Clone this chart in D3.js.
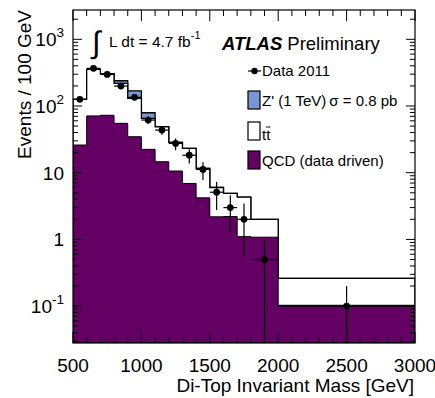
<!DOCTYPE html>
<html>
<head>
<meta charset="utf-8">
<script src="https://cdn.jsdelivr.net/npm/d3@7"></script>
<style>
  body { margin: 0; background: #fff; }
  text { font-family: "Liberation Sans", Arial, sans-serif; fill: #000; }
</style>
</head>
<body>
<div id="chart"></div>
<script>
// bin edges in GeV, last two bins are wider
const binEdges = [500, 600, 700, 800, 900, 1000, 1100, 1200, 1300, 1400, 1500, 1600, 1700, 1800, 2000, 3000];
const qcd    = [26, 71, 72.6, 55, 34.6, 22.4, 14.6, 10.6, 6.9, 4.2, 2.18, 2.2, 1.1, 1.08, 0.103];
const ttbar  = [100, 284, 232, 164, 95.4, 42.9, 34.3, 17.9, 16.3, 7.4, 3.82, 2.7, 3.2, 0.92, 0.157];
const zprime = [0, 0, 0, 20, 39, 14, 0, 0, 0, 0, 0, 0, 0, 0, 0];

const dataMass   = [550, 650, 750, 850, 950, 1050, 1150, 1250, 1350, 1450, 1550, 1650, 1750, 1900, 2500];
const dataEvents = [126, 367, 297, 199, 135, 61.6, 43.6, 27.5, 18.3, 11.2, 5.1, 3.0, 2.0, 0.5, 0.1];
const dataLow    = [115, 348, 280, 185, 124, 54, 37, 21.8, 13.8, 7.8, 2.75, 1.3, 0.56, 0, 0];
const dataHigh   = [137, 386, 314, 213, 147, 70, 50, 32.6, 22.4, 14.3, 7.3, 4.6, 3.46, 1.0, 0.2];

const xMajor = [500, 1000, 1500, 2000, 2500, 3000];
const yDecades = [0.1, 1, 10, 100, 1000];
const yLabels = [["10", "-1"], ["1", ""], ["10", ""], ["10", "2"], ["10", "3"]];

const purple = "#640064", blue = "#7896d2";

const margin = {top: 10, right: 20, bottom: 55, left: 73},
width = 435 - margin.left - margin.right,
height = 398 - margin.top - margin.bottom;

const svg = d3.select("#chart").append("svg")
    .attr("width", 435).attr("height", 398);
const g = svg.append("g").attr("transform", `translate(${margin.left},${margin.top})`);

const x = d3.scaleLinear().domain([500, 3000]).range([0, width]);
const y = d3.scaleLog().domain([0.028, 2750]).range([height, 0]);

g.append("clipPath").attr("id", "plotclip")
  .append("rect").attr("width", width).attr("height", height);

// step outline of a histogram given per-bin heights
function stepPoints(vals){
    const pts = [];
    vals.forEach((v, i) => {
        pts.push([binEdges[i], v]);
        pts.push([binEdges[i+1], v]);
    });
    return pts;
}

const area = d3.area()
    .x(d => x(d[0]))
    .y0(height)
    .y1(d => y(Math.max(d[1], 1e-3)));

const ttTop = qcd.map((v, i) => v + ttbar[i]);
const allTop = ttTop.map((v, i) => v + zprime[i]);

const plot = g.append("g").attr("clip-path", "url(#plotclip)");

plot.append("path").datum(stepPoints(allTop))
    .attr("d", area).attr("fill", blue).attr("stroke", "#000").attr("stroke-width", 1.3);
plot.append("path").datum(stepPoints(ttTop))
    .attr("d", area).attr("fill", "#fff").attr("stroke", "#000").attr("stroke-width", 1.3);
plot.append("path").datum(stepPoints(qcd))
    .attr("d", area).attr("fill", purple).attr("stroke", "#000").attr("stroke-width", 1);

// data with error bars
const pts = dataMass.map((m, i) => ({
    m: m, v: dataEvents[i], lo: dataLow[i], hi: dataHigh[i],
    x0: binEdges[i], x1: binEdges[i+1]
}));
const dataG = plot.append("g");
dataG.selectAll(".ev").data(pts).join("line")
    .attr("x1", d => x(d.m)).attr("x2", d => x(d.m))
    .attr("y1", d => d.lo > 0 ? y(d.lo) : height)
    .attr("y2", d => y(d.hi))
    .attr("stroke", "#000").attr("stroke-width", 1.2);
dataG.selectAll(".eh").data(pts).join("line")
    .attr("x1", d => x(d.x0)).attr("x2", d => x(d.x1))
    .attr("y1", d => y(d.v)).attr("y2", d => y(d.v))
    .attr("stroke", "#000").attr("stroke-width", 1.2);
dataG.selectAll("circle").data(pts).join("circle")
    .attr("cx", d => x(d.m)).attr("cy", d => y(d.v)).attr("r", 3.4)
    .attr("fill", "#000");

// frame and ticks on all sides
g.append("rect").attr("width", width).attr("height", height)
    .attr("fill", "none").attr("stroke", "#000").attr("stroke-width", 1.2);

const xMinor = d3.range(500, 3001, 100);
xMinor.forEach(v => {
    const len = xMajor.includes(v) ? 11 : 6;
    g.append("line").attr("x1", x(v)).attr("x2", x(v)).attr("y1", height).attr("y2", height - len)
        .attr("stroke", "#000");
    g.append("line").attr("x1", x(v)).attr("x2", x(v)).attr("y1", 0).attr("y2", len)
        .attr("stroke", "#000");
});

const yTicks = y.ticks(40).filter(v => v >= 0.028 && v <= 2750);
yTicks.forEach(v => {
    const isMajor = yDecades.some(d => Math.abs(d - v) / d < 1e-6);
    const len = isMajor ? 9 : 5;
    g.append("line").attr("x1", 0).attr("x2", len).attr("y1", y(v)).attr("y2", y(v))
        .attr("stroke", "#000");
    g.append("line").attr("x1", width).attr("x2", width - len).attr("y1", y(v)).attr("y2", y(v))
        .attr("stroke", "#000");
});

// tick labels
g.selectAll(".xl").data(xMajor).join("text")
    .attr("x", d => x(d)).attr("y", height + 15).attr("dy", "0.72em")
    .attr("text-anchor", "middle").attr("font-size", 19)
    .text(d => d);

yDecades.forEach((v, i) => {
    const t = g.append("text").attr("x", -9).attr("y", y(v) + 7)
        .attr("text-anchor", "end").attr("font-size", 19);
    t.append("tspan").text(yLabels[i][0]);
    if (yLabels[i][1]) {
        t.append("tspan").attr("dy", -9).attr("font-size", 13.5).text(yLabels[i][1]);
    }
});

// axis titles
svg.append("text").attr("x", 414).attr("y", 392)
    .attr("text-anchor", "end").attr("font-size", 19)
    .text("Di-Top Invariant Mass [GeV]");
svg.append("text").attr("transform", "translate(31,10) rotate(-90)")
    .attr("text-anchor", "end").attr("font-size", 19)
    .text("Events / 100 GeV");

// luminosity label
svg.append("text").attr("x", 92).attr("y", 53).attr("font-size", 31)
    .attr("font-family", "DejaVu Sans").text("\u222B");
const lumi = svg.append("text").attr("x", 109).attr("y", 47).attr("font-size", 15.5);
lumi.append("tspan").text("L dt = 4.7 fb");
lumi.append("tspan").attr("dy", -8).attr("font-size", 11).text("-1");

// ATLAS label
const atlas = svg.append("text").attr("x", 222).attr("y", 50).attr("font-size", 18.5);
atlas.append("tspan").attr("font-weight", "bold").attr("font-style", "italic").text("ATLAS");
atlas.append("tspan").attr("dx", 5).text("Preliminary");

// legend
const legX = 248;
svg.append("line").attr("x1", legX).attr("x2", legX + 13).attr("y1", 71).attr("y2", 71)
    .attr("stroke", "#000").attr("stroke-width", 1.2);
svg.append("circle").attr("cx", legX + 6.5).attr("cy", 71).attr("r", 3.2).attr("fill", "#000");
svg.append("text").attr("x", 262).attr("y", 76).attr("font-size", 15).text("Data 2011");

const boxes = [
    {y: 91, fill: blue, label: "Z' (1 TeV)\u2009\u03C3 = 0.8 pb", base: 106},
    {y: 122, fill: "#fff", label: "tt", base: 140},
    {y: 151, fill: purple, label: "QCD (data driven)", base: 166}
];
boxes.forEach(b => {
    svg.append("rect").attr("x", legX).attr("y", b.y).attr("width", 12).attr("height", 18)
        .attr("fill", b.fill).attr("stroke", "#000").attr("stroke-width", 1.2);
    const t = svg.append("text").attr("x", 262).attr("y", b.base).attr("font-size", 15).text(b.label);
    if (b.label === "tt") {
        // bar over the second t
        const x0 = 262 + t.node().getSubStringLength(0, 1);
        const w = t.node().getSubStringLength(1, 1);
        svg.append("line").attr("x1", x0).attr("x2", x0 + w)
            .attr("y1", b.base - 13).attr("y2", b.base - 13)
            .attr("stroke", "#000").attr("stroke-width", 1);
    }
});
</script>
</body>
</html>
